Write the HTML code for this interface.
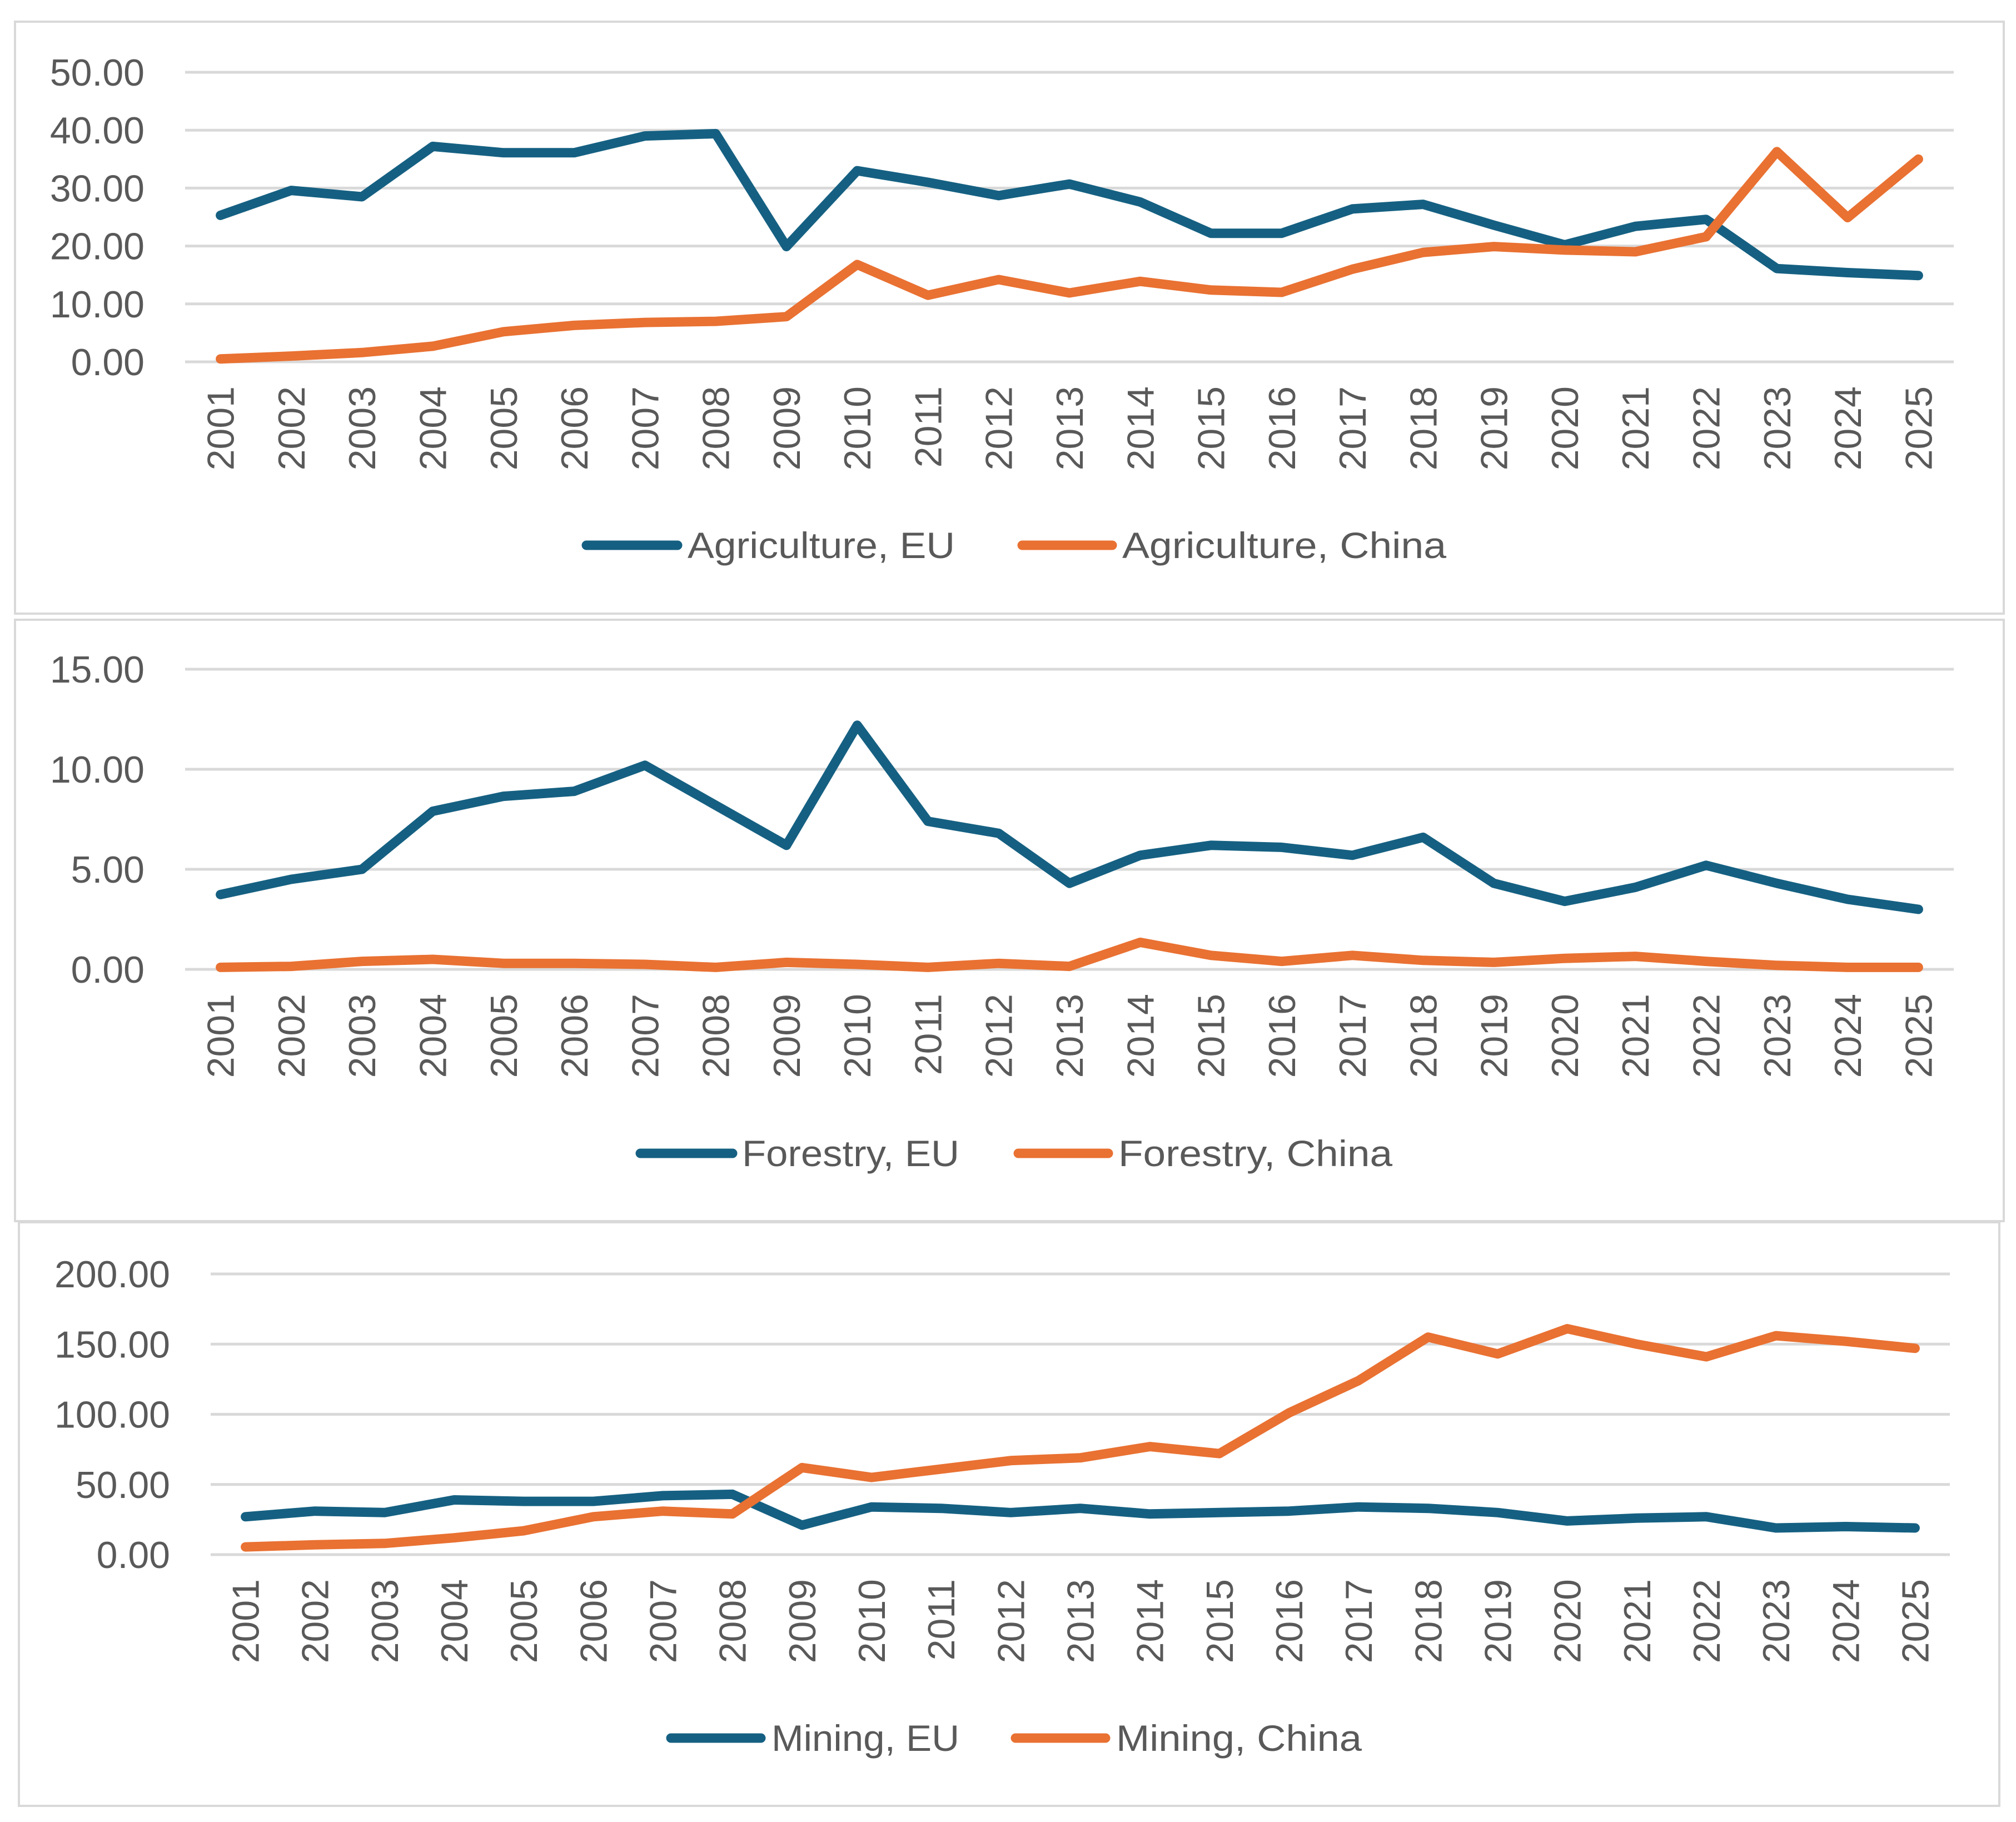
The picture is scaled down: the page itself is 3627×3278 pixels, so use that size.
<!DOCTYPE html>
<html><head><meta charset="utf-8">
<style>
html,body{margin:0;padding:0;background:#fff;}
svg{display:block;}
text{font-family:"Liberation Sans",Arial,sans-serif;fill:#595959;}
</style></head>
<body>
<svg id="root" width="3627" height="3278" viewBox="0 0 3627 3278" xmlns="http://www.w3.org/2000/svg"></svg>
<script>
const years = ["2001","2002","2003","2004","2005","2006","2007","2008","2009","2010","2011","2012","2013","2014","2015","2016","2017","2018","2019","2020","2021","2022","2023","2024","2025"];
const agriEU = [25.3,29.6,28.5,37.2,36.1,36.1,39.0,39.4,19.9,33.0,31.0,28.7,30.7,27.6,22.2,22.2,26.4,27.2,23.6,20.2,23.4,24.6,16.1,15.4,14.9];
const agriCN = [0.5,1.0,1.6,2.7,5.2,6.3,6.8,7.0,7.8,16.8,11.5,14.2,11.9,13.9,12.4,12.0,16.0,18.9,19.9,19.3,19.0,21.6,36.3,24.9,35.0];
const forEU = [3.74,4.5,5.0,7.9,8.65,8.9,10.2,8.2,6.2,12.2,7.4,6.8,4.3,5.7,6.2,6.1,5.7,6.6,4.3,3.4,4.1,5.2,4.3,3.5,3.0];
const forCN = [0.1,0.15,0.4,0.5,0.3,0.3,0.25,0.1,0.35,0.25,0.1,0.3,0.15,1.35,0.7,0.4,0.7,0.45,0.35,0.55,0.65,0.4,0.2,0.1,0.1];
const minEU = [27,31,30,39,38,38,42,43,21,34,33,30,33,29,30,31,34,33,30,24,26,27,19,20,19];
const minCN = [5.5,7,8,12,17,27,31,29,62,55,61,67,69,77,72,101,124,155,143,161,150,141,156,152,147];
const agriTicks = ["0.00","10.00","20.00","30.00","40.00","50.00"];
const forTicks = ["0.00","5.00","10.00","15.00"];
const minTicks = ["0.00","50.00","100.00","150.00","200.00"];

const NS = "http://www.w3.org/2000/svg";
const root = document.getElementById("root");
function el(tag, attrs, parent){
  const e = document.createElementNS(NS, tag);
  for (const k in attrs) e.setAttribute(k, attrs[k]);
  (parent||root).appendChild(e);
  return e;
}

const charts = [
  {key:"agriculture", box:[27,39,3605,1104], left:333, right:3515, y0:651, yTop:130, max:50, ticks:agriTicks, labelX:260, eu:agriEU, cn:agriCN,
   legY:981, leg:[[1055,1219,1237,"Agriculture, EU",481],[1839,2001,2019,"Agriculture, China",583]]},
  {key:"forestry", box:[27,1115,3605,2197], left:333, right:3515, y0:1744, yTop:1204, max:15, ticks:forTicks, labelX:260, eu:forEU, cn:forCN,
   legY:2075, leg:[[1152,1318,1335,"Forestry, EU",391],[1832,1994,2012,"Forestry, China",493]]},
  {key:"mining", box:[34,2199,3597,3249], left:379, right:3508, y0:2797, yTop:2292, max:200, ticks:minTicks, labelX:306, eu:minEU, cn:minCN,
   legY:3127, leg:[[1207,1369,1388,"Mining, EU",338],[1827,1989,2008,"Mining, China",442]]}
];
const colors = ["#156082","#E97132"];

charts.forEach(c => {
  const g = el("g", {});
  
  
  const b = c.box;
  const frame = el("rect", {x:b[0], y:b[1], width:b[2]-b[0], height:b[3]-b[1], fill:"#fff", stroke:"#d9d9d9", "stroke-width":4}, g);
  
  
  const yScale = v => c.y0 - (v / c.max) * (c.y0 - c.yTop);
  const step = (c.right - c.left) / years.length;
  const xScale = i => c.left + step * (i + 0.5);
  c.ticks.forEach(t => {
    const v = parseFloat(t);
    const y = yScale(v);
    const gl = el("line", {x1:c.left, x2:c.right, y1:y, y2:y, stroke:"#d9d9d9", "stroke-width":5}, g);
    
    
    const tl = el("text", {x:c.labelX, y:y + 24, "text-anchor":"end", "font-size":68}, g);
    tl.textContent = t;
    
    
  });
  years.forEach((yr, i) => {
    const x = xScale(i);
    const ty = c.y0 + 44;
    const tl = el("text", {x:x + 24, y:ty, "text-anchor":"end", "font-size":68, transform:`rotate(-90 ${x + 24} ${ty})`}, g);
    tl.textContent = yr;
    
    
  });
  [c.eu, c.cn].forEach((ser, si) => {
    const pts = ser.map((v, i) => xScale(i).toFixed(1) + "," + yScale(v).toFixed(1)).join(" ");
    const pl = el("polyline", {points:pts, fill:"none", stroke:colors[si], "stroke-width":17, "stroke-linejoin":"round", "stroke-linecap":"round"}, g);
    
    
  });
  c.leg.forEach((L, si) => {
    const lg = el("g", {}, g);
    
    
    el("line", {x1:L[0], x2:L[1], y1:c.legY, y2:c.legY, stroke:colors[si], "stroke-width":17, "stroke-linecap":"round"}, lg);
    const lt = el("text", {x:L[2], y:c.legY + 23, "font-size":66, textLength:L[4], lengthAdjust:"spacingAndGlyphs"}, lg);
    lt.textContent = L[3];
  });
});
</script>
</body></html>
